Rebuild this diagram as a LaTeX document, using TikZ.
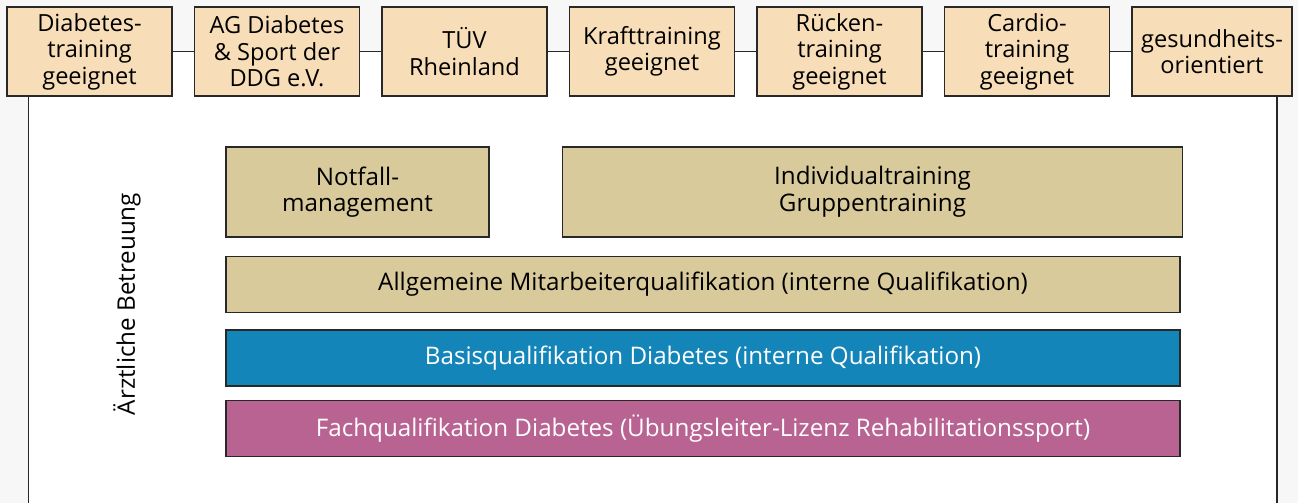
\documentclass[tikz,border=0pt]{standalone}
\usepackage{fontspec}
\setmainfont{Open Sans}
\usepackage{xcolor}
\usetikzlibrary{positioning,calc,backgrounds}
\definecolor{pageGray}{HTML}{F7F7F7}
\definecolor{labelPeach}{HTML}{F8DEB8}
\definecolor{khaki}{HTML}{D8CA9A}
\definecolor{basisBlue}{HTML}{1385B9}
\definecolor{fachPink}{HTML}{B86392}
\definecolor{edge}{HTML}{282828}

\begin{document}
\begin{tikzpicture}[
	node distance=8pt and 10.5pt,
	label/.style={draw=edge, line width=0.75pt, fill=labelPeach, align=center, minimum width=82.5pt, minimum height=44.5pt, inner sep=1pt, font=\fontsize{11.8}{13.3}\selectfont},
	level/.style={draw=edge, line width=0.75pt, fill=khaki, align=center, minimum height=45pt, font=\fontsize{12.1}{13.3}\selectfont},
	bar/.style={level, minimum width=477pt, minimum height=28pt},
	link/.style={line width=0.75pt, draw=edge}
	]
	% canvas and white frame
	\fill[pageGray] (0,0) rectangle (649pt,-251.5pt);
	\useasboundingbox (0,0) rectangle (649pt,-251.5pt);
	\fill[white] (14.5pt,-25.5pt) rectangle (638.5pt,-251.5pt);

	% top row of labels
	\node[label] (d1) at (44.75pt,-25.75pt) {Diabetes-\\training\\geeignet};
	\node[label, right=of d1] (d2) {AG Diabetes\\\& Sport der\\DDG e.V.};
	\node[label, right=of d2] (d3) {TÜV\\Rheinland};
	\node[label, right=of d3] (d4) {Krafttraining\\geeignet};
	\node[label, right=of d4] (d5) {Rücken-\\training\\geeignet};
	\node[label, right=of d5] (d6) {Cardio-\\training\\geeignet};
	\node[label, right=of d6, minimum width=80pt] (d7) {gesundheits-\\orientiert};
	\foreach \a/\b in {d1/d2,d2/d3,d3/d4,d4/d5,d5/d6,d6/d7}
		\draw[link] (\a.east) -- (\b.west);
	\draw[link] ($(d1.south west)+(11pt,0)$) -- ++(0,-240pt);
	\draw[link] (d7.south -| 638.5pt,0) -- ++(0,-240pt);

	% qualification levels
	\node[level, minimum width=131.5pt] (not) at (178.75pt,-96pt) {Notfall-\\management};
	\node[level, minimum width=310pt, right=36pt of not] (ind) {Individualtraining\\Gruppentraining};
	\node[bar, below=9pt of not.south west, anchor=north west] (allg) {Allgemeine Mitarbeiterqualifikation (interne Qualifikation)};
	\node[bar, fill=basisBlue, text=white, below=of allg] (bas) {Basisqualifikation Diabetes (interne Qualifikation)};
	\node[bar, fill=fachPink, text=white, below=6.5pt of bas] (fach) {Fachqualifikation Diabetes (Übungsleiter-Lizenz Rehabilitationssport)};

	\node[rotate=90, font=\fontsize{12.1}{13.3}\selectfont] (arzt) at (63.5pt,-152pt) {Ärztliche Betreuung};
\end{tikzpicture}
\end{document}
